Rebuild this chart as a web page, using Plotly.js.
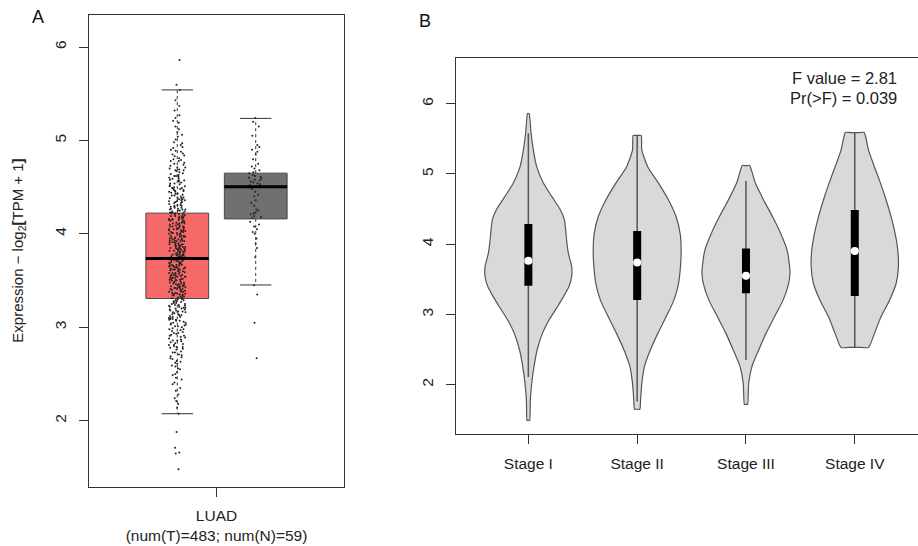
<!DOCTYPE html>
<html><head><meta charset="utf-8">
<script src="https://cdn.plot.ly/plotly-3.0.1.min.js"></script>
<style>html,body{margin:0;padding:0;background:#fff;overflow:hidden}#chart{width:918px;height:546px}</style>
</head><body><div id="chart"></div>
<script>
// ---------- Panel A data ----------
const cancerType = "LUAD";
const groupNames = ["Tumor", "Normal"];
const groupCounts = [483, 59];
const groupColors = ["#F76868", "#707070"];
const boxQ1 = [3.308, 4.160];
const boxMedian = [3.737, 4.505];
const boxQ3 = [4.222, 4.650];
const whiskerLow = [2.075, 3.453];
const whiskerHigh = [5.541, 5.236];

const tumorValues = [
1.48,1.65,1.66,1.71,1.88,
2.075,2.14,2.18,2.21,2.24,2.28,2.32,2.35,2.39,2.41,2.44,2.46,2.49,
2.50,2.52,2.55,2.56,2.58,2.59,2.61,2.62,2.63,2.64,2.66,2.67,2.68,2.69,
2.70,2.71,2.73,2.73,2.74,2.76,2.77,2.78,2.79,2.79,
2.80,2.81,2.81,2.82,2.83,2.84,2.85,2.86,2.86,2.87,2.88,2.89,
2.90,2.91,2.91,2.92,2.93,2.94,2.94,2.95,2.96,2.97,2.98,2.98,2.99,
3.00,3.01,3.01,3.02,3.03,3.03,3.04,3.05,3.05,3.06,3.07,3.07,3.08,3.08,3.09,3.09,
3.10,3.10,3.11,3.11,3.12,3.13,3.13,3.14,3.14,3.15,3.16,3.16,3.17,3.17,3.18,3.18,3.19,3.19,
3.20,3.20,3.21,3.21,3.22,3.22,3.23,3.23,3.24,3.24,3.25,3.25,3.26,3.26,3.27,3.27,3.28,3.28,3.29,3.29,
3.30,3.30,3.31,3.31,3.31,3.32,3.32,3.33,3.33,3.34,3.34,3.35,3.35,3.35,3.36,3.36,3.36,3.37,3.37,3.38,3.38,3.38,3.39,3.39,
3.40,3.40,3.41,3.41,3.41,3.42,3.42,3.42,3.43,3.43,3.44,3.44,3.44,3.45,3.45,3.45,3.46,3.46,3.46,3.47,3.47,3.48,3.48,3.48,3.49,3.49,
3.50,3.50,3.51,3.51,3.51,3.52,3.52,3.52,3.53,3.53,3.53,3.54,3.54,3.54,3.55,3.55,3.55,3.56,3.56,3.56,3.57,3.57,3.58,3.58,3.58,3.59,3.59,
3.60,3.60,3.61,3.61,3.61,3.62,3.62,3.62,3.63,3.63,3.63,3.64,3.64,3.64,3.65,3.65,3.65,3.66,3.66,3.66,3.67,3.67,3.67,3.68,3.68,3.68,3.69,3.69,
3.70,3.70,3.71,3.71,3.71,3.72,3.72,3.72,3.73,3.73,3.73,3.74,3.74,3.74,3.75,3.75,3.75,3.76,3.76,3.76,3.77,3.77,3.77,3.78,3.78,3.78,3.79,3.79,
3.80,3.80,3.81,3.81,3.81,3.82,3.82,3.82,3.83,3.83,3.83,3.84,3.84,3.84,3.85,3.85,3.85,3.86,3.86,3.86,3.87,3.87,3.87,3.88,3.88,3.88,3.89,3.89,
3.90,3.90,3.91,3.91,3.91,3.92,3.92,3.92,3.93,3.93,3.93,3.94,3.94,3.94,3.95,3.95,3.95,3.96,3.96,3.97,3.97,3.97,3.98,3.98,3.98,3.99,3.99,
4.00,4.00,4.01,4.01,4.01,4.02,4.02,4.02,4.03,4.03,4.04,4.04,4.04,4.05,4.05,4.05,4.06,4.06,4.06,4.07,4.07,4.08,4.08,4.08,4.09,4.09,
4.10,4.10,4.11,4.11,4.11,4.12,4.12,4.13,4.13,4.14,4.14,4.15,4.15,4.15,4.16,4.16,4.16,4.17,4.17,4.18,4.18,4.18,4.19,4.19,
4.20,4.20,4.21,4.21,4.22,4.22,4.22,4.23,4.23,4.24,4.24,4.25,4.25,4.26,4.26,4.26,4.27,4.27,4.28,4.28,4.29,4.29,
4.30,4.30,4.31,4.31,4.32,4.33,4.33,4.34,4.34,4.35,4.35,4.36,4.36,4.37,4.37,4.38,4.38,4.39,4.39,
4.40,4.41,4.41,4.42,4.43,4.43,4.44,4.45,4.45,4.46,4.46,4.47,4.47,4.48,4.48,4.49,4.49,
4.50,4.51,4.51,4.52,4.53,4.54,4.54,4.55,4.56,4.57,4.57,4.58,4.59,4.59,
4.60,4.61,4.62,4.62,4.63,4.64,4.65,4.66,4.67,4.68,4.68,4.69,
4.70,4.71,4.71,4.73,4.74,4.75,4.76,4.78,4.78,4.79,
4.80,4.81,4.83,4.84,4.85,4.86,4.88,4.89,
4.90,4.92,4.93,4.95,4.97,4.98,
5.01,5.04,5.06,5.09,
5.12,5.15,5.19,
5.21,5.24,5.27,
5.32,5.37,
5.43,
5.541,5.597,5.86
];

const normalValues = [
2.67,3.05,3.35,3.45,3.75,3.85,3.90,3.95,4.00,4.02,4.05,4.08,4.10,4.13,
4.17,4.18,4.19,4.21,4.22,4.23,4.25,4.26,4.30,4.33,4.36,4.40,4.42,4.45,4.48,4.50,
4.51,4.52,4.53,4.54,4.55,4.56,4.57,4.58,4.59,4.60,4.61,4.62,4.63,4.65,
4.66,4.68,4.70,4.72,4.75,4.80,4.85,4.88,4.90,4.93,4.95,5.05,5.15,5.20,5.24
];

// ---------- Panel B data ----------
const stages = ["Stage I", "Stage II", "Stage III", "Stage IV"];
const stageI_y  = [1.49,1.78,2.02,2.26,2.49,2.73,2.92,3.11,3.25,3.40,3.54,3.68,3.87,4.01,4.20,4.35,4.49,4.68,4.87,5.10,5.34,5.58,5.86];
const stageI_w  = [0.012,0.018,0.031,0.052,0.080,0.129,0.190,0.267,0.322,0.374,0.398,0.398,0.368,0.355,0.343,0.331,0.294,0.215,0.138,0.077,0.046,0.025,0.008];
const stageII_y = [1.65,1.78,2.02,2.26,2.49,2.73,2.97,3.20,3.44,3.68,3.92,4.15,4.39,4.63,4.87,5.10,5.34,5.55];
const stageII_w = [0.025,0.031,0.043,0.067,0.120,0.190,0.267,0.337,0.380,0.398,0.404,0.395,0.358,0.288,0.196,0.098,0.043,0.037];
const stageIII_y = [1.72,2.02,2.26,2.49,2.73,2.97,3.20,3.44,3.58,3.68,3.92,4.15,4.39,4.63,4.87,5.12];
const stageIII_w = [0.015,0.025,0.055,0.116,0.184,0.263,0.340,0.392,0.404,0.401,0.377,0.320,0.245,0.162,0.086,0.034];
const stageIV_y = [2.53,2.73,2.97,3.20,3.44,3.68,3.92,4.15,4.39,4.63,4.87,5.10,5.34,5.59];
const stageIV_w = [0.126,0.181,0.242,0.319,0.380,0.401,0.395,0.371,0.334,0.288,0.236,0.181,0.126,0.086];
const stageQ1 = [3.41, 3.204, 3.30, 3.261];
const stageMedian = [3.765, 3.74, 3.551, 3.902];
const stageQ3 = [4.287, 4.187, 3.94, 4.486];
const stageWhiskLow = [2.11, 1.76, 2.35, 2.53];
const stageWhiskHigh = [5.58, 5.55, 4.90, 5.59];
const fValue = "2.81";
const prValue = "0.039";

// ---------- build ----------
const FONT = "Liberation Sans, Arial, sans-serif";
const traces = [];
const boxPos = [0.8, 1.2];
const boxW = 0.32;
const groupValues = [tumorValues, normalValues];

for (let i = 0; i < 2; i++) {
  const p = boxPos[i];
  traces.push({
    type: "box", xaxis: "x", yaxis: "y", name: groupNames[i],
    x: [p], q1: [boxQ1[i]], median: [boxMedian[i]], q3: [boxQ3[i]],
    lowerfence: [boxQ1[i]], upperfence: [boxQ3[i]],
    width: boxW, boxpoints: false, fillcolor: groupColors[i],
    line: {color: "#4a4a4a", width: 1}, whiskerwidth: 0, hoverinfo: "skip", showlegend: false
  });
  traces.push({
    type: "scatter", mode: "lines", xaxis: "x", yaxis: "y",
    x: [p, p, null, p, p], y: [boxQ3[i], whiskerHigh[i], null, boxQ1[i], whiskerLow[i]],
    line: {color: "#333", width: 1, dash: "3px,3px"}, hoverinfo: "skip", showlegend: false
  });
  traces.push({
    type: "scatter", mode: "lines", xaxis: "x", yaxis: "y",
    x: [p - boxW / 4, p + boxW / 4, null, p - boxW / 4, p + boxW / 4],
    y: [whiskerHigh[i], whiskerHigh[i], null, whiskerLow[i], whiskerLow[i]],
    line: {color: "#333", width: 1}, hoverinfo: "skip", showlegend: false
  });
}
for (let i = 0; i < 2; i++) {
  traces.push({
    type: "box", xaxis: "x", yaxis: "y", name: groupNames[i] + " points",
    y: groupValues[i], x0: boxPos[i], width: boxW,
    boxpoints: "all", jitter: 0.27, pointpos: 0,
    fillcolor: "rgba(0,0,0,0)", line: {color: "rgba(0,0,0,0)", width: 0},
    marker: {color: "#222", size: 2}, hoverinfo: "y", showlegend: false
  });
}
for (let i = 0; i < 2; i++) {
  const p = boxPos[i];
  traces.push({
    type: "scatter", mode: "lines", xaxis: "x", yaxis: "y",
    x: [p - boxW / 2, p + boxW / 2], y: [boxMedian[i], boxMedian[i]],
    line: {color: "#000", width: 3}, hoverinfo: "skip", showlegend: false
  });
}

// Panel B violins (outline from density half-widths, flat caps kept straight)
const violinY = [stageI_y, stageII_y, stageIII_y, stageIV_y];
const violinW = [stageI_w, stageII_w, stageIII_w, stageIV_w];
for (let s = 0; s < stages.length; s++) {
  const p = s + 1, ys = violinY[s], ws = violinW[s], n = ys.length;
  const xs = [], yy = [];
  const capFr = [0.5, 0, -0.5];
  for (let k = 0; k < n; k++) { xs.push(p + ws[k]); yy.push(ys[k]); }
  capFr.forEach(f => { xs.push(p + f * ws[n - 1]); yy.push(ys[n - 1]); });
  for (let k = n - 1; k >= 0; k--) { xs.push(p - ws[k]); yy.push(ys[k]); }
  capFr.slice().reverse().forEach(f => { xs.push(p + f * ws[0]); yy.push(ys[0]); });
  xs.push(xs[0]); yy.push(yy[0]);
  traces.push({
    type: "scatter", mode: "lines", xaxis: "x2", yaxis: "y2", name: stages[s],
    x: xs, y: yy, fill: "toself", fillcolor: "#D9D9D9",
    line: {color: "#555", width: 1.2, shape: "spline", smoothing: 0.6},
    hoverinfo: "skip", showlegend: false
  });
  traces.push({
    type: "scatter", mode: "lines", xaxis: "x2", yaxis: "y2",
    x: [p, p], y: [stageWhiskLow[s], stageWhiskHigh[s]],
    line: {color: "#555", width: 1.5}, hoverinfo: "skip", showlegend: false
  });
  traces.push({
    type: "scatter", mode: "lines", xaxis: "x2", yaxis: "y2",
    x: [p, p], y: [stageQ1[s], stageQ3[s]],
    line: {color: "#000", width: 8}, hoverinfo: "skip", showlegend: false
  });
  traces.push({
    type: "scatter", mode: "markers", xaxis: "x2", yaxis: "y2",
    x: [p], y: [stageMedian[s]],
    marker: {color: "#fff", size: 8}, hoverinfo: "y", showlegend: false
  });
}

const axisCommon = {
  showgrid: false, zeroline: false, showline: true, linecolor: "#333", linewidth: 1,
  ticks: "outside", ticklen: 9, tickcolor: "#333", tickwidth: 1,
  tickfont: {family: FONT, size: 15.5, color: "#222"}, fixedrange: true
};

const layout = {
  width: 918, height: 546,
  margin: {l: 0, r: 0, t: 0, b: 0},
  paper_bgcolor: "#fff", plot_bgcolor: "#fff",
  showlegend: false,
  font: {family: FONT, color: "#222"},
  xaxis: Object.assign({}, axisCommon, {
    domain: [89 / 918, 344 / 918], range: [0.35, 1.65], anchor: "y", mirror: true,
    ticklabelstandoff: 6,
    tickvals: [1], ticktext: [cancerType + "<br>(num(T)=" + groupCounts[0] + "; num(N)=" + groupCounts[1] + ")"]
  }),
  yaxis: Object.assign({}, axisCommon, {
    domain: [1 - 486.5 / 546, 1 - 14.6 / 546], range: [1.296, 6.347], anchor: "x", mirror: true,
    tickvals: [2, 3, 4, 5, 6], tickangle: -90, ticklabelstandoff: 7,
    title: {text: "Expression \u2212 log<sub>2</sub><b>[</b>TPM + 1<b>]</b>", font: {family: FONT, size: 15, color: "#222"}, standoff: 24}
  }),
  xaxis2: Object.assign({}, axisCommon, {
    domain: [456 / 918, 1], range: [0.335, 4.581], anchor: "y2", mirror: true,
    ticklabelstandoff: 6,
    tickvals: [1, 2, 3, 4], ticktext: stages
  }),
  yaxis2: Object.assign({}, axisCommon, {
    domain: [1 - 434.3 / 546, 1 - 58.3 / 546], range: [1.293, 6.647], anchor: "x2",
    tickvals: [2, 3, 4, 5, 6], tickangle: -90, ticklabelstandoff: 7
  }),
  annotations: [
    {xref: "paper", yref: "paper", x: 37.7 / 918, y: 1 - 17.4 / 546, text: "A", showarrow: false,
     xanchor: "center", yanchor: "middle", font: {family: FONT, size: 18, color: "#111"}},
    {xref: "paper", yref: "paper", x: 425 / 918, y: 1 - 20.7 / 546, text: "B", showarrow: false,
     xanchor: "center", yanchor: "middle", font: {family: FONT, size: 18, color: "#111"}},
    {xref: "paper", yref: "paper", x: 899 / 918, y: 1 - 77.7 / 546, text: "F value = " + fValue, showarrow: false,
     xanchor: "right", yanchor: "middle", font: {family: FONT, size: 16.5, color: "#222"}},
    {xref: "paper", yref: "paper", x: 899 / 918, y: 1 - 97.7 / 546, text: "Pr(>F) = " + prValue, showarrow: false,
     xanchor: "right", yanchor: "middle", font: {family: FONT, size: 16.5, color: "#222"}}
  ]
};

Plotly.newPlot("chart", traces, layout, {displayModeBar: false, staticPlot: true});
</script>
</body></html>
